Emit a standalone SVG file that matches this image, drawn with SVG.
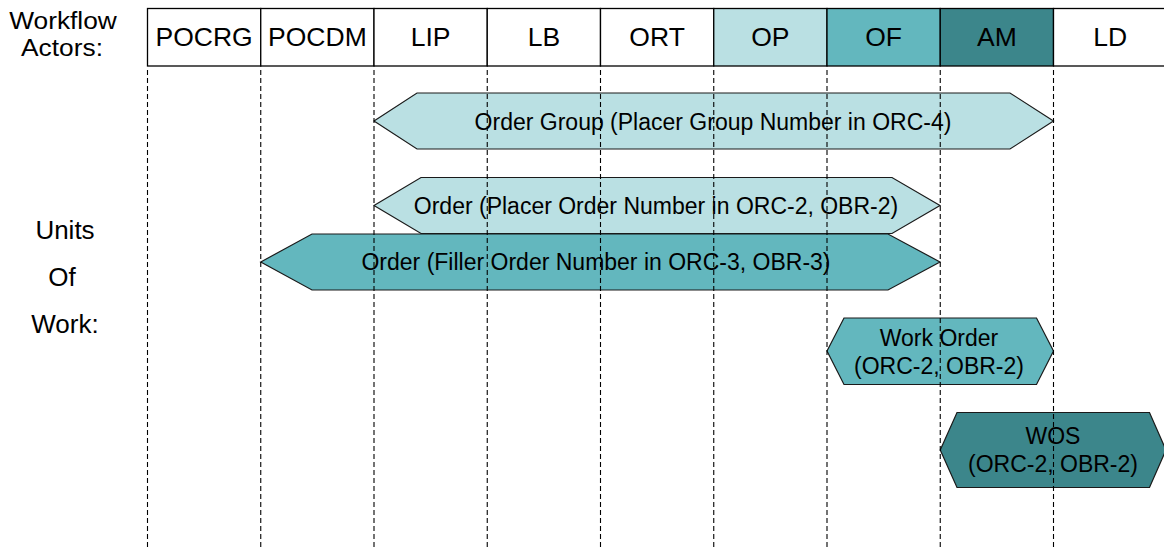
<svg xmlns="http://www.w3.org/2000/svg" width="1164" height="550" viewBox="0 0 1164 550">
<style>
text{font-family:"Liberation Sans",Arial,sans-serif;fill:#000;text-anchor:middle}
.hd{font-size:26.5px}
.lb{font-size:26px}
.lt{font-size:23.5px}
.hx{font-size:23px}
.cell{stroke:#000;stroke-width:1.3}
.hex{stroke:#1a1a1a;stroke-width:1.2}
.c1{fill:#BAE0E3}
.c2{fill:#63B7BE}
.c3{fill:#3C868B}
.cw{fill:#fff}
.life{stroke:#000;stroke-width:1.1;stroke-dasharray:5,3;fill:none}
</style>
<rect width="1164" height="550" fill="#fff"/>
<g id="labels">
<text class="lt" transform="translate(63,29) scale(1.12,1)">Workflow</text>
<text class="lt" transform="translate(62,56) scale(1.12,1)">Actors:</text>
<text class="lb" x="65" y="239">Units</text>
<text class="lb" x="62" y="286">Of</text>
<text class="lb" x="65" y="333">Work:</text>
</g>
<g id="actors">
<g id="actor-POCRG"><rect class="cell cw" x="147.5" y="8.5" width="113.25" height="57.5"/><text class="hd" x="204.1" y="46">POCRG</text></g>
<g id="actor-POCDM"><rect class="cell cw" x="260.75" y="8.5" width="113.25" height="57.5"/><text class="hd" x="317.4" y="46">POCDM</text></g>
<g id="actor-LIP"><rect class="cell cw" x="374" y="8.5" width="113.25" height="57.5"/><text class="hd" x="430.6" y="46">LIP</text></g>
<g id="actor-LB"><rect class="cell cw" x="487.25" y="8.5" width="113.25" height="57.5"/><text class="hd" x="543.9" y="46">LB</text></g>
<g id="actor-ORT"><rect class="cell cw" x="600.5" y="8.5" width="113.25" height="57.5"/><text class="hd" x="657.1" y="46">ORT</text></g>
<g id="actor-OP"><rect class="cell c1" x="713.75" y="8.5" width="113.25" height="57.5"/><text class="hd" x="770.4" y="46">OP</text></g>
<g id="actor-OF"><rect class="cell c2" x="827" y="8.5" width="113.25" height="57.5"/><text class="hd" x="883.6" y="46">OF</text></g>
<g id="actor-AM"><rect class="cell c3" x="940.25" y="8.5" width="113.25" height="57.5"/><text class="hd" x="996.9" y="46">AM</text></g>
<g id="actor-LD"><rect class="cell cw" x="1053.5" y="8.5" width="113.25" height="57.5"/><text class="hd" x="1110.1" y="46">LD</text></g>
</g>
<g id="units">
<g id="order-group"><polygon class="hex c1" points="374,121 417,93 1010,93 1053.5,121 1010,149 417,149"/><text class="hx" x="713" y="130">Order Group (Placer Group Number in ORC-4)</text></g>
<g id="placer-order"><polygon class="hex c1" points="374,205.5 421,177.5 892,177.5 940,205.5 892,233.5 421,233.5"/><text class="hx" x="656" y="214">Order (Placer Order Number in ORC-2, OBR-2)</text></g>
<g id="filler-order"><polygon class="hex c2" points="260.75,262 312,234 888,234 940,262 888,290 312,290"/><text class="hx" x="596" y="270">Order (Filler Order Number in ORC-3, OBR-3)</text></g>
<g id="work-order"><polygon class="hex c2" points="827,351 844,318 1036.5,318 1053.5,351 1036.5,384.5 844,384.5"/><text class="hx" x="939" y="346">Work Order</text><text class="hx" x="939" y="374">(ORC-2, OBR-2)</text></g>
<g id="wos"><polygon class="hex c3" points="940.25,450 957,412.5 1149.5,412.5 1166,450 1149.5,487.5 957,487.5"/><text class="hx" x="1053" y="444">WOS</text><text class="hx" x="1053" y="472">(ORC-2, OBR-2)</text></g>
</g>
<g id="connectors">
<line class="life" x1="147.5" y1="70" x2="147.5" y2="550"/>
<line class="life" x1="260.75" y1="70" x2="260.75" y2="550"/>
<line class="life" x1="374" y1="70" x2="374" y2="550"/>
<line class="life" x1="487.25" y1="70" x2="487.25" y2="550"/>
<line class="life" x1="600.5" y1="70" x2="600.5" y2="550"/>
<line class="life" x1="713.75" y1="70" x2="713.75" y2="550"/>
<line class="life" x1="827" y1="70" x2="827" y2="550"/>
<line class="life" x1="940.25" y1="70" x2="940.25" y2="550"/>
<line class="life" x1="1053.5" y1="70" x2="1053.5" y2="550"/>
</g>
</svg>
